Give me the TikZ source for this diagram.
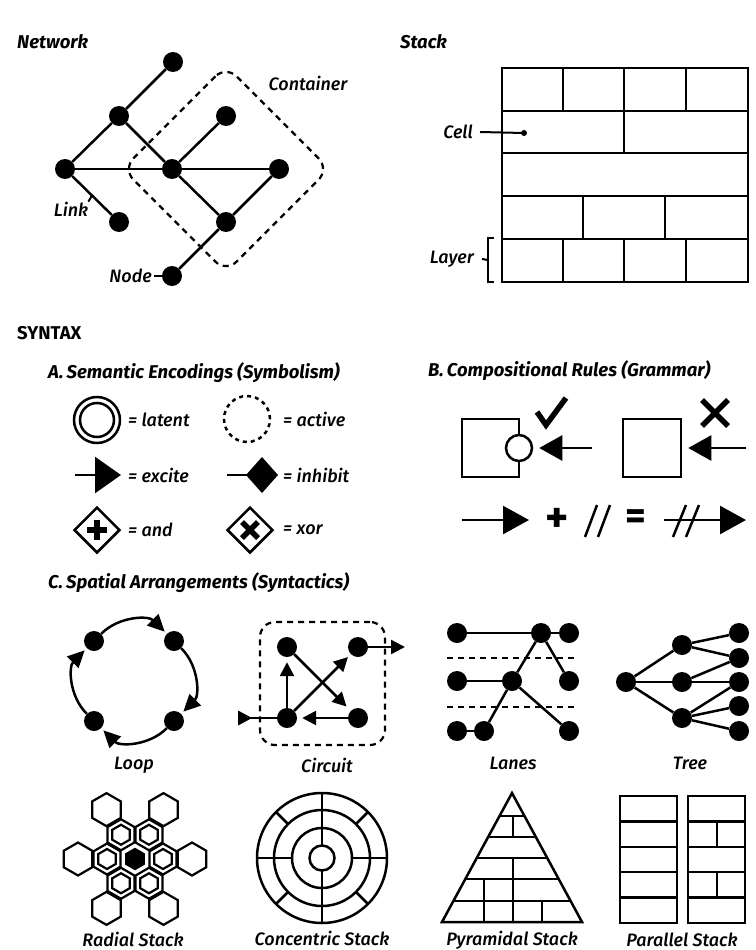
\documentclass[tikz,border=0pt]{standalone}
\usepackage{fontspec}
\setmainfont{Fira Sans}
\newfontfamily\medit{Fira Sans Medium Italic}
\usetikzlibrary{arrows.meta,shapes.geometric,calc}
\begin{document}
\begin{tikzpicture}[x=1pt,y=-1pt,
 ln/.style={line width=2.5pt},
 thinln/.style={line width=2pt},
 dot/.style={circle,fill=black,inner sep=0pt,minimum size=20pt},
 lbl/.style={font=\medit\fontsize{18}{20}\selectfont, inner sep=0pt},
 hd/.style={font=\bfseries\itshape\fontsize{18.5}{21}\selectfont, inner sep=0pt, anchor=west},
 dsh/.style={line width=2.2pt, dash pattern=on 6pt off 5pt},
 hexs/.style={regular polygon, regular polygon sides=6, shape border rotate=30, draw, line width=2.2pt, inner sep=0pt},
 arr/.style={ln, -{Triangle[length=14pt,width=14pt]}},
 larr/.style={ln, -{Triangle[length=17pt,width=16pt]}},
 sym/.style={font=\bfseries\fontsize{44}{44}\selectfont, inner sep=0pt}
]
\useasboundingbox (0,0) rectangle (755,950);

% ---------- Network ----------
\node[hd] (nethd) at (17,42) {Network};
\node[draw, dsh, rotate=45, minimum width=146pt, minimum height=146pt, rounded corners=15pt] (cont) at (226,169) {};
\node[dot] (n1) at (173,62) {};
\node[dot] (n2) at (119,116) {};
\node[dot] (n3) at (65,169) {};
\node[dot] (n4) at (172,169) {};
\node[dot] (n5) at (226,116) {};
\node[dot] (n6) at (279,169) {};
\node[dot] (n7) at (226,222) {};
\node[dot] (n8) at (119,222) {};
\node[dot] (n9) at (172,276) {};
\draw[ln] (n1) -- (n2);
\draw[ln] (n2) -- (n3);
\draw[ln] (n2) -- (n4);
\draw[ln] (n3) -- (n4);
\draw[ln] (n4) -- (n6);
\draw[ln] (n4) -- (n5);
\draw[ln] (n4) -- (n7);
\draw[ln] (n7) -- (n6);
\draw[ln] (n3) -- (n8);
\draw[ln] (n7) -- (n9);
\node[lbl] (contl) at (308,83) {Container};
\node[lbl] (linkl) at (71,209) {Link};
\coordinate (lk) at ($(n3)!0.5!(n8)$);
\draw[thinln] (linkl.north east) -- (lk);
\node[lbl, anchor=east] (nodel) at (152,276) {Node};
\draw[thinln] ([xshift=2pt]nodel.east) -- (n9);

% ---------- Stack ----------
\node[hd] (stackhd) at (400,42) {Stack};
\draw[ln] (502,68) rectangle (748,282);
\foreach \y in {111,153,196,239} \draw[ln] (502,\y) -- (748,\y);
\foreach \x in {563,624,686} \draw[ln] (\x,68) -- (\x,111);
\draw[ln] (624,111) -- (624,153);
\foreach \x in {583,665} \draw[ln] (\x,196) -- (\x,239);
\foreach \x in {563,624,686} \draw[ln] (\x,239) -- (\x,282);
\coordinate (celldot) at (524,133);
\fill (celldot) circle (3pt);
\node[lbl, anchor=east] (celll) at (473,132) {Cell};
\draw[thinln] ([xshift=7pt]celll.east) -- (celldot);
\node[lbl, anchor=east] (layerl) at (474,259) {Layer};
\coordinate (brk) at (488,260);
\draw[thinln] (494,238) -- (488,238) -- (488,282) -- (494,282);
\draw[thinln] ([xshift=8pt]layerl.east) -- (brk);

% ---------- SYNTAX ----------
\node[font=\bfseries\fontsize{18.5}{21}\selectfont, inner sep=0pt, anchor=west] (syn) at (17,333) {SYNTAX};
\node[hd] (ahd) at (48,373) {A.\,Semantic Encodings (Symbolism)};
\node[hd] (bhd) at (428,371) {B.\,Compositional Rules (Grammar)};

% A symbols
\node[circle, draw, ln, minimum size=46pt, inner sep=0pt] (lat) at (97,420) {};
\node[circle, draw, ln, minimum size=34pt, inner sep=0pt] (latin) at (97,420) {};
\node[lbl, anchor=west] (latl) at (128,420) {= latent};
\node[circle, draw, line width=2.5pt, dash pattern=on 4pt off 4pt, minimum size=46pt, inner sep=0pt] (act) at (247,419) {};
\node[lbl, anchor=west] (actl) at (283,419) {= active};
\coordinate (exa) at (75,475);
\coordinate (exb) at (121,475);
\draw[ln, -{Triangle[length=26pt,width=36pt]}] (exa) -- (exb);
\node[lbl, anchor=west] (exl) at (128,475) {= excite};
\coordinate (ina) at (227,475);
\coordinate (inb) at (278,475);
\draw[ln, -{Diamond[length=32pt,width=36pt]}] (ina) -- (inb);
\node[lbl, anchor=west] (inl) at (283,475) {= inhibit};
\node[diamond, draw, ln, fill=white, minimum size=46pt, inner sep=0pt, aspect=1] (andg) at (97,530) {};
\draw[line width=5.5pt] ($(andg)+(-10,0)$) -- ($(andg)+(10,0)$);
\draw[line width=5.5pt] ($(andg)+(0,-10)$) -- ($(andg)+(0,10)$);
\node[lbl, anchor=west] (andl) at (128,530) {= and};
\node[diamond, draw, ln, fill=white, minimum size=46pt, inner sep=0pt, aspect=1] (xorg) at (250,530) {};
\draw[line width=5.5pt] ($(xorg)+(-8,-8)$) -- ($(xorg)+(8,8)$);
\draw[line width=5.5pt] ($(xorg)+(-8,8)$) -- ($(xorg)+(8,-8)$);
\node[lbl, anchor=west] (xorl) at (283,530) {= xor};

% B symbols
\draw[ln] (519,435) -- (519,419) -- (462,419) -- (462,477) -- (519,477) -- (519,461);
\node[circle, draw, ln, fill=white, minimum size=26pt, inner sep=0pt] (port) at (519,448) {};
\draw[line width=5.5pt] (537,412) -- (546,425) -- (566,398);
\coordinate (a1s) at (592,448);
\draw[ln, -{Triangle[length=23pt,width=25pt]}, shorten >=6pt] (a1s) -- (port);
\node[draw, ln, minimum size=58pt, inner sep=0pt] (box2) at (652,448) {};
\draw[line width=5.5pt] (702,400) -- (728,426);
\draw[line width=5.5pt] (702,426) -- (728,400);
\coordinate (a2s) at (746,448);
\draw[ln, -{Triangle[length=23pt,width=25pt]}, shorten >=6pt] (a2s) -- (box2);
\coordinate (r2a) at (462,520);
\coordinate (r2b) at (529,520);
\draw[ln, -{Triangle[length=26pt,width=28pt]}] (r2a) -- (r2b);
\node[sym] (plus) at (557,520) {+};
\draw[ln] (585,537) -- (597,505);
\draw[ln] (598,537) -- (610,505);
\node[sym, font=\bfseries\fontsize{40}{40}\selectfont] (eq) at (636,520) {=};
\coordinate (r2c) at (664,520);
\coordinate (r2d) at (746,520);
\draw[ln, -{Triangle[length=26pt,width=28pt]}] (r2c) -- (r2d);
\draw[ln] (673,537) -- (686,505);
\draw[ln] (686,537) -- (699,505);

% ---------- C ----------
\node[hd] (chd) at (48,583) {C.\,Spatial Arrangements (Syntactics)};

% Loop
\node[dot] (l1) at (94,641) {};
\node[dot] (l2) at (174,641) {};
\node[dot] (l3) at (174,721) {};
\node[dot] (l4) at (94,721) {};
\draw[larr, shorten >=3pt] (l1) to[bend left=45] (l2);
\draw[larr, shorten >=3pt] (l2) to[bend left=45] (l3);
\draw[larr, shorten >=3pt] (l3) to[bend left=45] (l4);
\draw[larr, shorten >=3pt] (l4) to[bend left=45] (l1);
\node[lbl] (loopl) at (134,765) {Loop};

% Circuit
\node[draw, dsh, rounded corners=15pt, minimum width=125pt, minimum height=123pt] (cbox) at (322.5,683.5) {};
\node[dot] (ca) at (287,647) {};
\node[dot] (cb) at (358,647) {};
\node[dot] (cc) at (287,718) {};
\node[dot] (cd) at (358,718) {};
\draw[arr, shorten >=5pt] (cc) -- (ca);
\draw[arr, shorten >=4pt] (cc) -- (cb);
\draw[arr, shorten >=6pt] (ca) -- (cd);
\draw[arr, shorten >=5pt] (cd) -- (cc);
\coordinate (cout) at (405,647);
\draw[arr] (cb) -- (cout);
\coordinate (cin) at (238,718);
\fill (cin) ++(0,-7.5) -- ++(14,7.5) -- ++(-14,7.5) -- cycle;
\draw[ln] (cin) -- (cc);
\node[lbl] (circl) at (327,765) {Circuit};

% Lanes
\draw[dsh] (447,658) -- (578,658);
\draw[dsh] (447,707) -- (578,707);
\node[dot] (la1) at (457,633) {};
\node[dot] (lb1) at (541,633) {};
\node[dot] (lc1) at (569,633) {};
\node[dot] (la2) at (457,681) {};
\node[dot] (lb2) at (512,681) {};
\node[dot] (lc2) at (569,681) {};
\node[dot] (la3) at (457,731) {};
\node[dot] (lb3) at (484,731) {};
\node[dot] (lc3) at (569,731) {};
\draw[ln] (la1) -- (lb1);
\draw[ln] (lb1) -- (lc1);
\draw[ln] (lb1) -- (lb2);
\draw[ln] (lb1) -- (lc2);
\draw[ln] (la2) -- (lb2);
\draw[ln] (lb2) -- (lb3);
\draw[ln] (lb2) -- (lc3);
\draw[ln] (la3) -- (lb3);
\node[lbl] (lanel) at (513,763) {Lanes};

% Tree
\node[dot] (t0) at (626,682) {};
\node[dot] (m1) at (682,645) {};
\node[dot] (m2) at (682,682) {};
\node[dot] (m3) at (682,718) {};
\node[dot] (e1) at (739,633) {};
\node[dot] (e2) at (739,658) {};
\node[dot] (e3) at (739,682) {};
\node[dot] (e4) at (739,706) {};
\node[dot] (e5) at (739,731) {};
\foreach \m in {m1,m2,m3} \draw[ln] (t0) -- (\m);
\draw[ln] (m1) -- (e1);
\draw[ln] (m1) -- (e2);
\draw[ln] (m2) -- (e2);
\draw[ln] (m2) -- (e3);
\draw[ln] (m3) -- (e3);
\draw[ln] (m3) -- (e4);
\draw[ln] (m3) -- (e5);
\node[lbl] (treel) at (690,763) {Tree};

% Radial stack
\coordinate (rc) at (135,859);
\node[hexs, fill=black, minimum size=20pt] (hc) at (rc) {};
\foreach \a in {0,60,120,180,240,300} {
  \node[hexs, minimum size=31pt] at ($(rc)+(\a:28)$) {};
  \node[hexs, minimum size=20pt] at ($(rc)+(\a:28)$) {};
  \node[hexs, minimum size=33pt] at ($(rc)+(\a:57)$) {};
}
\node[lbl] (radl) at (133,939) {Radial Stack};

% Concentric stack
\coordinate (cc0) at (322,858);
\draw[ln] (cc0) circle (65pt);
\draw[ln] (cc0) circle (48pt);
\draw[ln] (cc0) circle (30pt);
\draw[ln] (cc0) circle (12.5pt);
\draw[ln] ($(cc0)+(0,-12.5)$) -- ($(cc0)+(0,-65)$);
\draw[ln] ($(cc0)+(0,12.5)$) -- ($(cc0)+(0,65)$);
\draw[ln] ($(cc0)+(-30,0)$) -- ($(cc0)+(-65,0)$);
\draw[ln] ($(cc0)+(30,0)$) -- ($(cc0)+(65,0)$);
\foreach \a in {45,135,225,315} \draw[ln] ($(cc0)+(\a:48)$) -- ($(cc0)+(\a:65)$);
\node[lbl] (concl) at (322,938) {Concentric Stack};

% Pyramidal stack
\draw[ln, line join=miter] (512,793) -- (582,922) -- (442,922) -- cycle;
\draw[ln] (499.5,816) -- (524.5,816);
\draw[ln] (488.3,837) -- (535.7,837);
\draw[ln] (477.1,858) -- (546.9,858);
\draw[ln] (465.8,879) -- (558.2,879);
\draw[ln] (454,901) -- (570,901);
\draw[ln] (513,816) -- (513,837);
\draw[ln] (513,858) -- (513,879);
\foreach \x in {484,513} \draw[ln] (\x,879) -- (\x,901);
\foreach \x in {484,513,542} \draw[ln] (\x,901) -- (\x,922);
\node[lbl] (pyrl) at (512,940) {Pyramidal Stack};

% Parallel stack
\draw[ln] (620,796) rectangle (677,923);
\draw[ln] (688,796) rectangle (745,923);
\foreach \y in {821.4,846.8,872.2,897.6} {
  \draw[ln] (620,\y) -- (677,\y);
  \draw[ln] (688,\y) -- (745,\y);
}
\draw[ln] (717,821.4) -- (717,846.8);
\draw[ln] (717,872.2) -- (717,897.6);
\node[lbl] (parl) at (682,940) {Parallel Stack};
\end{tikzpicture}
\end{document}
